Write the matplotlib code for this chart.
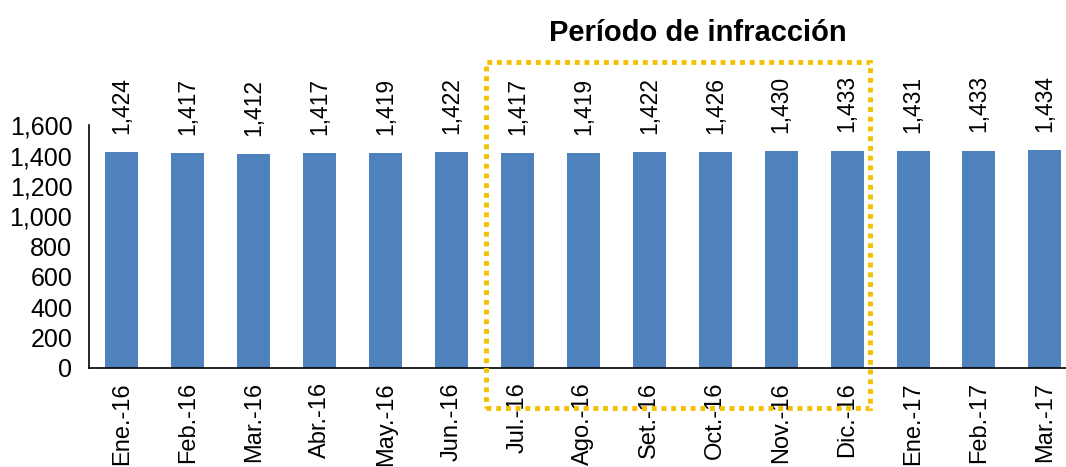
import numpy as np
import matplotlib.pyplot as plt
from matplotlib.patches import Rectangle
import matplotlib.transforms as mtransforms

plt.rcParams['font.family'] = ['Liberation Sans', 'DejaVu Sans']

months = ['Ene.-16', 'Feb.-16', 'Mar.-16', 'Abr.-16', 'May.-16', 'Jun.-16',
          'Jul.-16', 'Ago.-16', 'Set.-16', 'Oct.-16', 'Nov.-16', 'Dic.-16',
          'Ene.-17', 'Feb.-17', 'Mar.-17']
values = [1424, 1417, 1412, 1417, 1419, 1422,
          1417, 1419, 1422, 1426, 1430, 1433,
          1431, 1433, 1434]
period_start, period_end = 'Jul.-16', 'Dic.-16'

fig = plt.figure(figsize=(10.66, 4.67), dpi=100)
ax = fig.add_axes([0.0835, 0.212, 0.9165, 0.520])

x = np.arange(len(months))
ax.bar(x, values, width=0.5, color='#4F81BD')

for xi, v in zip(x, values):
    ax.annotate(f'{v:,}', (xi, v), xytext=(0, 13), textcoords='offset points',
                rotation=90, ha='center', va='bottom', fontsize=16.5,
                annotation_clip=False)

ax.set_ylim(0, 1600)
ax.set_yticks(range(0, 1601, 200))
ax.set_yticklabels([f'{t:,}' for t in range(0, 1601, 200)])
ax.set_xlim(-0.5, 14.32)
ax.set_xticks(x)
ax.set_xticklabels(months, rotation=90, va='top', ha='center')
ax.tick_params(axis='y', length=0, pad=12, labelsize=18)
ax.tick_params(axis='x', length=0, pad=10, labelsize=17)

for s in ['top', 'right']:
    ax.spines[s].set_visible(False)
for s in ['left', 'bottom']:
    ax.spines[s].set_color('black')
    ax.spines[s].set_linewidth(1.2)

# dotted box around the infringement period
i0, i1 = months.index(period_start), months.index(period_end)
trans = mtransforms.blended_transform_factory(ax.transData, fig.transFigure)
rect = Rectangle((i0 - 0.48, 0.126), (i1 + 0.35) - (i0 - 0.48), 0.867 - 0.126,
                 transform=trans, fill=False, edgecolor='#F5C000',
                 linewidth=3.5, linestyle=(0, (1, 1)), clip_on=False)
fig.add_artist(rect)

fig.text(0.655, 0.93, 'Período de infracción', ha='center', va='center',
         fontsize=21, fontweight='bold')

fig.savefig('out.png', dpi=100)
